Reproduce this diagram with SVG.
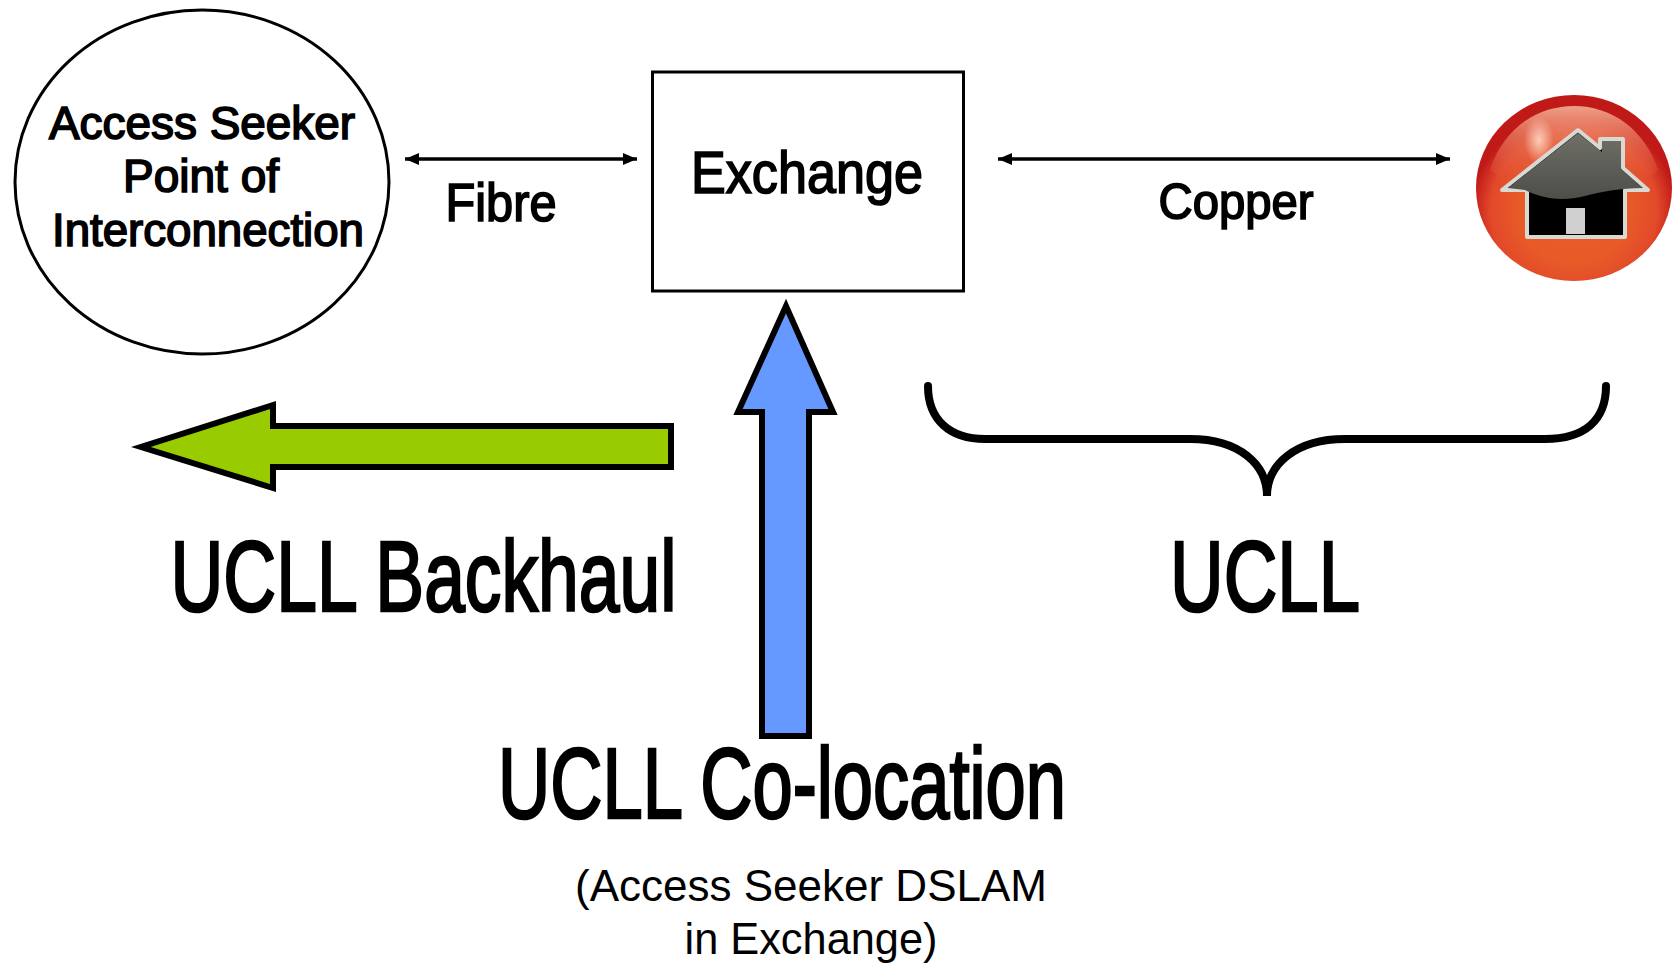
<svg xmlns="http://www.w3.org/2000/svg" width="1673" height="966" viewBox="0 0 1673 966">
<defs>
<marker id="ah" markerWidth="15" markerHeight="13" refX="14" refY="6" orient="auto-start-reverse" markerUnits="userSpaceOnUse"><path d="M0,0L14,6L0,12z" fill="#000"/></marker>
<radialGradient id="ball" cx="50%" cy="62%" r="52%"><stop offset="0" stop-color="#e8602c"/><stop offset="0.55" stop-color="#e85a28"/><stop offset="0.82" stop-color="#e2492a"/><stop offset="1" stop-color="#c01a18"/></radialGradient>
<linearGradient id="glow" x1="0" y1="0" x2="0" y2="1"><stop offset="0" stop-color="#f0a088"/><stop offset="1" stop-color="#e04828" stop-opacity="0.2"/></linearGradient>
<linearGradient id="roof" x1="0" y1="0" x2="0" y2="1"><stop offset="0" stop-color="#707068"/><stop offset="1" stop-color="#4e4e4a"/></linearGradient>
<radialGradient id="spot"><stop offset="0" stop-color="#ffd8c4" stop-opacity="0.9"/><stop offset="1" stop-color="#ffd8c4" stop-opacity="0"/></radialGradient>
</defs>
<style>
text{font-family:"Liberation Sans",Arial,sans-serif;fill:#000;text-anchor:middle;stroke:#000}
.m{stroke-width:1.7}
.b{stroke-width:2.6}
.t{stroke:none}
.n{stroke:#000;stroke-width:3.5}
</style>
<rect width="1673" height="966" fill="#fff"/>
<g id="connectors" fill="none">
<line x1="405" y1="159" x2="637" y2="159" class="n" marker-start="url(#ah)" marker-end="url(#ah)"/>
<line x1="998" y1="159" x2="1450" y2="159" class="n" marker-start="url(#ah)" marker-end="url(#ah)"/>
</g>
<g id="access-seeker"><ellipse cx="202" cy="182" rx="187" ry="172" fill="#fff" stroke="#000" stroke-width="3"/>
<text x="202" y="139" font-size="47" class="m" textLength="306" lengthAdjust="spacingAndGlyphs">Access Seeker</text>
<text x="201" y="192" font-size="47" class="m" textLength="156" lengthAdjust="spacingAndGlyphs">Point of</text>
<text x="208" y="246" font-size="47" class="m" textLength="312" lengthAdjust="spacingAndGlyphs">Interconnection</text></g>
<g id="exchange"><rect x="652.5" y="72" width="311" height="219" fill="#fff" stroke="#000" stroke-width="3"/>
<text x="807" y="193" font-size="60" class="m" textLength="232" lengthAdjust="spacingAndGlyphs">Exchange</text></g>
<g id="fibre-label"><text x="501" y="221" font-size="53" class="m" textLength="111" lengthAdjust="spacingAndGlyphs">Fibre</text></g>
<g id="copper-label"><text x="1236" y="219" font-size="50" class="m" textLength="155" lengthAdjust="spacingAndGlyphs">Copper</text></g>
<g id="home"><ellipse cx="1574" cy="188" rx="98" ry="93" fill="url(#ball)"/>
<path d="M1490,170C1505,125 1540,106 1574,106C1612,106 1645,130 1658,170C1630,195 1520,195 1490,170Z" fill="url(#glow)"/>
<ellipse cx="1539" cy="140" rx="15" ry="24" fill="url(#spot)"/>
<path d="M1502,190L1578,130L1600,148V139H1623V168L1648,190H1625V237H1527V190Z" fill="#000" stroke="#d8d8d4" stroke-width="4" stroke-linejoin="round"/>
<path d="M1508,188L1578,133L1602,152V141H1621V169L1643,188C1620,188 1600,192 1585,196C1565,201 1545,200 1525,190Z" fill="url(#roof)"/>
<rect x="1566" y="208" width="19" height="26" fill="#d0d0d0"/></g>
<g id="backhaul-arrow"><path d="M671,426H273V405L141,447L273,488V467H671Z" fill="#99cc00" stroke="#000" stroke-width="6"/></g>
<g id="colocation-arrow"><path d="M762,736V412H738L786,306L833,412H809V736Z" fill="#6699ff" stroke="#000" stroke-width="6"/></g>
<g id="ucll-brace"><path d="M928,386C928,420 950,439 985,439H1190C1240,439 1267,465 1267,496C1267,465 1295,439 1345,439H1545C1585,439 1606,420 1606,386" fill="none" stroke="#000" stroke-width="8" stroke-linecap="round"/></g>
<g id="ucll-backhaul-label"><text x="423.500" y="611" font-size="101" class="b" textLength="506" lengthAdjust="spacingAndGlyphs">UCLL Backhaul</text></g>
<g id="ucll-label"><text x="1265" y="611" font-size="101" class="b" textLength="190" lengthAdjust="spacingAndGlyphs">UCLL</text></g>
<g id="ucll-colocation-label"><text x="782" y="818" font-size="101" class="b" textLength="568" lengthAdjust="spacingAndGlyphs">UCLL Co-location</text></g>
<g id="note"><text x="811" y="901" font-size="44" class="t">(Access Seeker DSLAM</text><text x="811" y="954" font-size="44" class="t" textLength="253" lengthAdjust="spacingAndGlyphs">in Exchange)</text></g>
</svg>
